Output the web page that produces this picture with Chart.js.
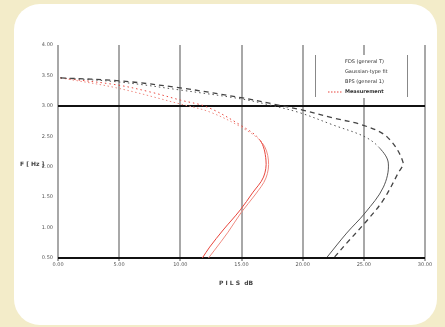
<!DOCTYPE html>
<html>
<head>
<meta charset="utf-8">
<script src="https://cdn.jsdelivr.net/npm/chart.js@4"></script>
<style>
  html, body { margin: 0; padding: 0; }
  body { width: 445px; height: 327px; background: #f3ecc9; position: relative; overflow: hidden; }
  #card { position: absolute; left: 14px; top: 4px; width: 423px; height: 321px; background: #fff; border-radius: 26px; }
  #chart { position: absolute; left: 0; top: 0; }
</style>
</head>
<body>
<div id="card"></div>
<canvas id="chart" width="445" height="327"></canvas>
<script>
// x = level (dB), y = position on the vertical axis (0 = bottom)
const xTickLabels = ['0.00', '5.00', '10.00', '15.00', '20.00', '25.00', '30.00'];
const yTickLabels = ['0.50', '1.00', '1.50', '2.00', '2.50', '3.00', '3.50', '4.00'];

const fdsX = [0.2, 5.1, 10.0, 15.1, 17.6, 19.8, 22.5, 25.1, 26.3, 27.0, 26.6, 25.1, 23.6, 22.0];
const fdsY = [5.92, 5.78, 5.52, 5.22, 5.0, 4.77, 4.37, 3.98, 3.61, 3.12, 2.33, 1.48, 0.82, 0.03];

const gaussX = [0.2, 5.1, 10.0, 15.1, 17.6, 20.0, 22.5, 24.9, 26.9, 28.2, 27.8, 26.6, 25.3, 23.6, 22.6];
const gaussY = [5.92, 5.82, 5.59, 5.26, 5.06, 4.86, 4.6, 4.37, 3.98, 3.15, 2.79, 1.91, 1.25, 0.49, 0.03];

const bpsX = [0.2, 4.8, 7.5, 10.0, 12.2, 14.9, 16.5, 17.0, 16.8, 15.9, 14.9, 13.5, 12.4, 11.8];
const bpsY = [5.92, 5.69, 5.46, 5.19, 4.96, 4.37, 3.88, 3.22, 2.66, 2.14, 1.58, 0.92, 0.36, 0.0];

const measX = [0.2, 4.8, 10.0, 12.4, 15.1, 16.7, 17.2, 17.0, 16.1, 15.0, 13.9, 12.8, 12.3];
const measY = [5.92, 5.59, 5.06, 4.80, 4.27, 3.78, 3.22, 2.63, 2.07, 1.51, 0.85, 0.26, 0.0];

const legendLabels = ['FDS (general T)', 'Gaussian-type fit', 'BPS (general 1)', 'Measurement'];

function pts(xs, ys) {
    return xs.map((x, i) => ({ x: x, y: ys[i] }));
}

// dash upper part of a curve, solid below
function dashAbove(limit, dash) {
    return ctx => (ctx.p0.parsed.y > limit ? dash : []);
}

const legendBox = {
    id: 'legendBox',
    afterDatasetsDraw(chart) {
        const c = chart.ctx;
        const xs = chart.scales.x;
        c.save();
        c.fillStyle = '#fff';
        c.fillRect(316, 55, 90, 43);
        c.strokeStyle = '#888';
        c.lineWidth = 1;
        c.beginPath();
        c.moveTo(315.5, 55); c.lineTo(315.5, 97);
        c.moveTo(407.5, 55); c.lineTo(407.5, 97);
        c.stroke();
        c.textBaseline = 'middle';
        legendLabels.forEach((t, i) => {
            const y = 62 + i * 10;
            c.fillStyle = '#333';
            c.font = (i === 3 ? 'bold ' : '') + '5px "DejaVu Sans"';
            c.fillText(t, 345, y);
        });
        c.strokeStyle = '#e8453c';
        c.setLineDash([1.5, 1.5]);
        c.lineWidth = 1.2;
        c.beginPath();
        c.moveTo(328, 92); c.lineTo(343, 92);
        c.stroke();
        // axis titles
        c.setLineDash([]);
        c.fillStyle = '#444';
        c.font = 'bold 6px "DejaVu Sans"';
        c.textAlign = 'center';
        c.fillText('P I L S  dB', 236, 283);
        c.textAlign = 'left';
        c.fillText('F [ Hz ]', 20, 164);
        c.restore();
    }
};

new Chart(document.getElementById('chart'), {
    type: 'scatter',
    data: {
        datasets: [
            {
                label: legendLabels[0],
                data: pts(fdsX, fdsY),
                showLine: true,
                borderColor: '#555',
                borderWidth: 1,
                pointRadius: 0,
                tension: 0.35,
                segment: { borderDash: dashAbove(3.7, [1.5, 3]) }
            },
            {
                label: legendLabels[1],
                data: pts(gaussX, gaussY),
                showLine: true,
                borderColor: '#444',
                borderWidth: 1.3,
                pointRadius: 0,
                tension: 0.35,
                borderDash: [5, 4]
            },
            {
                label: legendLabels[2],
                data: pts(bpsX, bpsY),
                showLine: true,
                borderColor: '#e8453c',
                borderWidth: 1,
                pointRadius: 0,
                tension: 0.35,
                segment: { borderDash: dashAbove(4.2, [1.5, 3]) }
            },
            {
                label: legendLabels[3],
                data: pts(measX, measY),
                showLine: true,
                borderColor: '#ef8a80',
                borderWidth: 1,
                pointRadius: 0,
                tension: 0.35,
                segment: { borderDash: dashAbove(4.2, [1.5, 2.5]) }
            }
        ]
    },
    options: {
        responsive: false,
        animation: false,
        layout: { padding: { left: 0, top: 45, right: 20, bottom: 0 } },
        plugins: { legend: { display: false }, tooltip: { enabled: false } },
        scales: {
            x: {
                min: 0, max: 30,
                afterFit: s => { s.height = 69; },
                border: { display: false },
                grid: { color: '#a8a8a8', lineWidth: 2, tickLength: 3 },
                ticks: {
                    stepSize: 5,
                    autoSkip: false,
                    padding: 1,
                    color: '#555',
                    font: { size: 5, family: 'DejaVu Sans' },
                    callback: (v, i) => xTickLabels[i]
                }
            },
            y: {
                min: 0, max: 7,
                afterFit: s => { s.width = 58; },
                border: { display: false },
                grid: {
                    drawTicks: false,
                    color: c => (c.tick.value === 0 || c.tick.value === 5 ? '#111' : 'rgba(0,0,0,0)'),
                    lineWidth: 2
                },
                ticks: {
                    stepSize: 1,
                    autoSkip: false,
                    padding: 5,
                    color: '#555',
                    font: { size: 5, family: 'DejaVu Sans' },
                    callback: (v, i) => yTickLabels[i]
                }
            }
        }
    },
    plugins: [legendBox]
});
</script>
</body>
</html>
